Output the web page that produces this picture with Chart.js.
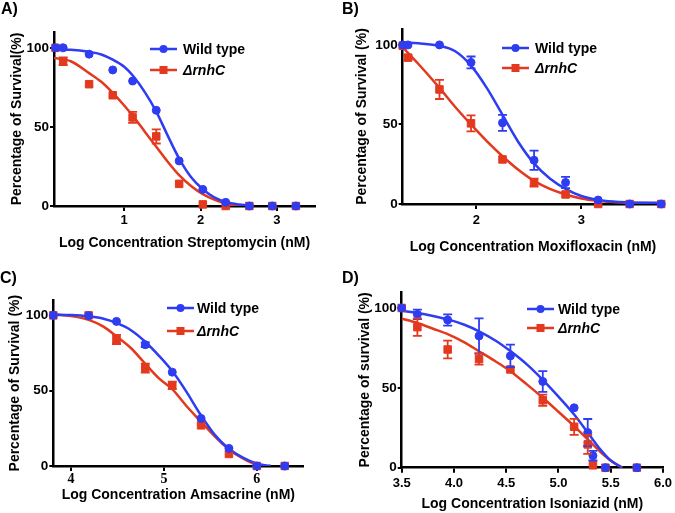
<!DOCTYPE html>
<html>
<head>
<meta charset="utf-8">
<script src="https://cdn.jsdelivr.net/npm/chart.js@4.4.0/dist/chart.umd.min.js"></script>
<style>
  body { margin: 0; background: #fff; width: 675px; height: 513px; position: relative; overflow: hidden;
         font-family: "Liberation Sans", Arial, sans-serif; }
  canvas { position: absolute; }
  .tag { position: absolute; font-weight: bold; font-size: 16px; line-height: 18px; }
</style>
</head>
<body>
<canvas id="chartA" width="337" height="256" style="left:0;top:0"></canvas>
<canvas id="chartB" width="338" height="256" style="left:337px;top:0"></canvas>
<canvas id="chartC" width="337" height="257" style="left:0;top:256px"></canvas>
<canvas id="chartD" width="338" height="257" style="left:337px;top:256px"></canvas>
<div class="tag" style="left:1px;top:0px">A)</div>
<div class="tag" style="left:342px;top:0px">B)</div>
<div class="tag" style="left:0px;top:269px">C)</div>
<div class="tag" style="left:342px;top:269px">D)</div>
<script>
const BLUE = "#2e3cf2";
const RED = "#e3391e";
const FONT = "'Liberation Sans', Arial, sans-serif";

const seriesNames = ["Wild type", "\u0394rnhC"];

// A) streptomycin
const strepDose = [0.10, 0.20, 0.54, 0.85, 1.11, 1.42, 1.72, 2.03, 2.33, 2.64, 2.94, 3.25];
const strepWT = [100, 100, 96, 86, 79, 60.5, 28.5, 10.5, 2.3, 0, 0, 0];
const strepWTErr = [0, 0, 0, 0, 0, 0, 0, 0, 0, 0, 0, 0];
const strepKO = [100, 91.5, 77, 70, 56, 44, 14, 1, 0, 0, 0, 0];
const strepKOErr = [0, 2.5, 0, 0, 3.5, 4.5, 0, 0, 0, 0, 0, 0];
const strepFitX = [0.08, 0.3, 0.54, 0.7, 0.85, 1.0, 1.12, 1.27, 1.42, 1.57, 1.72, 1.88, 2.03, 2.18, 2.33, 2.5, 2.65];
const strepWTFit = [99, 98.8, 97.5, 95.8, 92.5, 88, 82, 72, 59.7, 44.5, 30, 18, 10.6, 5.5, 2.6, 1, 0.3];
const strepKOFit = [93.5, 91.5, 84, 78.5, 71.5, 63.5, 56.5, 47, 37.5, 28, 19.5, 12.5, 7.5, 4, 1.5, 0, 0];

// B) moxifloxacin
const moxDose = [1.30, 1.35, 1.65, 1.95, 2.25, 2.55, 2.85, 3.16, 3.46, 3.76];
const moxWT = [100, 100, 100, 89, 51, 27.5, 13.5, 2.5, 0, 0];
const moxWTErr = [0, 0, 0, 3.7, 5, 6, 3.5, 0, 0, 0];
const moxKO = [99.5, 92, 72, 50.7, 28, 13.5, 6, 0, 0, 0];
const moxKOErr = [0, 1.5, 6, 5, 0, 2.5, 0, 0, 0, 0];
const moxFitX = [1.30, 1.45, 1.65, 1.80, 1.95, 2.10, 2.25, 2.40, 2.55, 2.70, 2.85, 3.00, 3.16, 3.30, 3.46, 3.60, 3.76];
const moxWTFit = [101.5, 101, 99.5, 96, 87, 73, 56, 39, 25.5, 16, 9.5, 5, 2.5, 1.5, 1, 0.8, 0.7];
const moxKOFit = [98.5, 88, 73, 61, 50, 39.5, 30, 21.5, 14.5, 9.5, 6, 3.5, 2, 1.2, 0.8, 0.6, 0.5];

// C) amsacrine
const amsDose = [3.81, 4.19, 4.49, 4.80, 5.09, 5.40, 5.70, 6.00, 6.30];
const amsWT = [100, 99.8, 96, 80.5, 62.3, 31.6, 11.7, 0, 0];
const amsWTErr = [0, 0, 0, 1.5, 0, 0, 0, 0, 0];
const amsKO = [100, 100, 84, 65, 53.5, 27, 8, 0, 0];
const amsKOErr = [0, 0, 3, 3, 2.5, 0, 0, 0, 0];
const amsFitX = [3.81, 4.0, 4.19, 4.35, 4.49, 4.65, 4.79, 4.95, 5.09, 5.24, 5.39, 5.55, 5.69, 5.85, 5.99, 6.1, 6.15];
const amsWTFit = [100.5, 100.2, 99.3, 97.8, 95, 90, 83, 73, 63, 49.5, 34.5, 20.5, 12, 5.5, 1.8, 0.3, 0];
const amsKOFit = [100.5, 99.5, 97, 92.5, 86, 78, 68.5, 58, 51, 40, 30, 19.5, 11.5, 5, 1, 0, 0];

// D) isoniazid
const inhDose = [3.5, 3.65, 3.94, 4.24, 4.54, 4.85, 5.15, 5.28, 5.33, 5.45, 5.75];
const inhWT = [100, 96, 92.5, 82.5, 70, 54, 37.5, 22, 7.5, 0, 0];
const inhWTErr = [0, 3, 3.5, 11, 7, 6.5, 0, 8.5, 3, 0, 0];
const inhKO = [100, 88, 74, 68, 61.5, 42.3, 25.6, 14.6, 1.5, 0, 0];
const inhKOErr = [0, 5.5, 5.5, 3.5, 0, 3.5, 5, 6, 0, 0, 0];
const inhFitX = [3.5, 3.65, 3.8, 3.95, 4.1, 4.24, 4.4, 4.54, 4.7, 4.85, 5.0, 5.15, 5.28, 5.4, 5.5, 5.61];
const inhWTFit = [98.3, 96.9, 95, 92.7, 89.5, 85.4, 79.5, 73, 64.5, 55, 44.5, 33.3, 22, 11.5, 4.5, 0];
const inhKOFit = [93.3, 90.6, 87, 83.3, 78.5, 72.9, 66.5, 60.4, 52, 43.8, 35, 26, 17.7, 10, 4.5, 0];

const yTicks = [0, 50, 100];
const strepTicks = [1, 2, 3];
const moxTicks = [2, 3];
const amsTicks = [4, 5, 6];
const inhTicks = [3.5, 4.0, 4.5, 5.0, 5.5, 6.0];

const pts = (xs, ys) => xs.map((x, i) => ({ x: x, y: ys[i] }));

// vertical SEM bars with caps
const errorBars = {
  id: "errorBars",
  afterDatasetsDraw(chart) {
    const ctx = chart.ctx;
    const xs = chart.scales.x, ys = chart.scales.y;
    chart.data.datasets.forEach((ds) => {
      if (!ds.errors) return;
      ctx.save();
      ctx.strokeStyle = ds.borderColor;
      ctx.lineWidth = 1.8;
      ds.data.forEach((p, j) => {
        const e = ds.errors[j];
        if (!e) return;
        const px = xs.getPixelForValue(p.x);
        const top = ys.getPixelForValue(p.y + e);
        const bot = ys.getPixelForValue(p.y - e);
        ctx.beginPath();
        ctx.moveTo(px, top); ctx.lineTo(px, bot);
        ctx.moveTo(px - 4.5, top); ctx.lineTo(px + 4.5, top);
        ctx.moveTo(px - 4.5, bot); ctx.lineTo(px + 4.5, bot);
        ctx.stroke();
      });
      ctx.restore();
    });
  }
};

// legend drawn inside the plot, line + marker like Prism
const pairLegend = {
  id: "pairLegend",
  afterDraw(chart, args, opts) {
    const ctx = chart.ctx;
    const items = [
      { label: seriesNames[0], color: BLUE, shape: "circle", italic: false },
      { label: seriesNames[1], color: RED, shape: "rect", italic: true }
    ];
    items.forEach((it, k) => {
      const y = opts.y + k * opts.gap;
      const mid = opts.x + 13.5;
      ctx.save();
      ctx.strokeStyle = it.color;
      ctx.fillStyle = it.color;
      ctx.lineWidth = 2.5;
      ctx.beginPath();
      ctx.moveTo(opts.x, y); ctx.lineTo(opts.x + 27, y);
      ctx.stroke();
      if (it.shape === "circle") {
        ctx.beginPath(); ctx.arc(mid, y, 4, 0, Math.PI * 2); ctx.fill();
      } else {
        ctx.fillRect(mid - 4, y - 4, 8, 8);
      }
      ctx.fillStyle = "#000";
      ctx.font = (it.italic ? "italic " : "") + "bold 14px " + FONT;
      ctx.textBaseline = "middle";
      ctx.fillText(it.label, opts.x + opts.textOff, y + 1);
      ctx.restore();
    });
  }
};

function drawPanel(id, p) {
  const xGrid = { drawOnChartArea: false, drawTicks: true, tickLength: 5, color: "#000", lineWidth: 2 };
  const yGrid = { drawOnChartArea: false, drawTicks: true, tickLength: 4, color: "#000", lineWidth: 2 };
  const axisBorder = { color: "#000", width: 2.5 };
  new Chart(document.getElementById(id), {
    data: {
      datasets: [
        { type: "scatter", data: pts(p.dose, p.wt), errors: p.wtErr, backgroundColor: BLUE, borderColor: BLUE,
          pointStyle: "circle", pointRadius: 4, clip: false },
        { type: "scatter", data: pts(p.dose, p.ko), errors: p.koErr, backgroundColor: RED, borderColor: RED,
          pointStyle: "rect", pointRadius: 5.3, clip: false },
        { type: "line", data: pts(p.fitX, p.wtFit), borderColor: BLUE, borderWidth: 2.5, pointRadius: 0,
          cubicInterpolationMode: "monotone", fill: false },
        { type: "line", data: pts(p.fitX, p.koFit), borderColor: RED, borderWidth: 2.5, pointRadius: 0,
          cubicInterpolationMode: "monotone", fill: false }
      ]
    },
    options: {
      responsive: false,
      animation: false,
      events: [],
      layout: { padding: { top: p.top, right: p.w - p.right, left: 0, bottom: 0 } },
      plugins: {
        legend: { display: false },
        tooltip: { enabled: false },
        pairLegend: p.legend
      },
      scales: {
        x: {
          type: "linear",
          min: p.xMin,
          max: p.xMax,
          afterBuildTicks: (s) => { s.ticks = p.xTicks.map((v) => ({ value: v })); },
          afterFit: (s) => { s.height = p.h - p.bottom; },
          grid: xGrid,
          border: axisBorder,
          ticks: {
            color: "#000", padding: p.xTickPad, maxRotation: 0, autoSkip: false,
            font: p.xTickFont || { family: FONT, size: 13, weight: "bold" },
            callback: (v) => p.decimals ? Number(v).toFixed(p.decimals) : String(v)
          },
          title: {
            display: true, text: p.xTitle, color: "#000",
            font: { family: FONT, size: 14, weight: "bold" },
            padding: { top: 0, bottom: p.xTitlePad }
          }
        },
        y: {
          min: 0,
          max: 110,
          afterBuildTicks: (s) => { s.ticks = yTicks.map((v) => ({ value: v })); },
          afterFit: (s) => { s.width = p.left; },
          grid: yGrid,
          border: axisBorder,
          ticks: { color: "#000", padding: 1, font: { family: FONT, size: 13.5, weight: "bold" } },
          title: {
            display: true, text: p.yTitle, color: "#000",
            font: { family: FONT, size: 14, weight: "bold" },
            padding: { top: p.yTitlePad, bottom: 0 }
          }
        }
      }
    },
    plugins: [errorBars, pairLegend]
  });
}

drawPanel("chartA", {
  dose: strepDose, wt: strepWT, wtErr: strepWTErr, ko: strepKO, koErr: strepKOErr,
  fitX: strepFitX, wtFit: strepWTFit, koFit: strepKOFit, xTicks: strepTicks,
  xMin: 0.08, xMax: 3.5, w: 337, h: 256, left: 54, right: 315, top: 32, bottom: 206,
  xTickPad: 2, xTitlePad: 4.6, yTitlePad: 8.6,
  xTitle: "Log Concentration Streptomycin (nM)", yTitle: "Percentage of Survival(%)",
  legend: { x: 150, y: 49, gap: 21, textOff: 33 }
});

drawPanel("chartB", {
  dose: moxDose, wt: moxWT, wtErr: moxWTErr, ko: moxKO, koErr: moxKOErr,
  fitX: moxFitX, wtFit: moxWTFit, koFit: moxKOFit, xTicks: moxTicks,
  xMin: 1.30, xMax: 3.78, w: 338, h: 256, left: 65.7, right: 326.3, top: 29, bottom: 204,
  xTickPad: 4, xTitlePad: 0.6, yTitlePad: 16.6,
  xTitle: "Log Concentration Moxifloxacin (nM)", yTitle: "Percentage of Survival (%)",
  legend: { x: 165, y: 48, gap: 20, textOff: 33 }
});

drawPanel("chartC", {
  dose: amsDose, wt: amsWT, wtErr: amsWTErr, ko: amsKO, koErr: amsKOErr,
  fitX: amsFitX, wtFit: amsWTFit, koFit: amsKOFit, xTicks: amsTicks,
  xMin: 3.81, xMax: 6.5, w: 337, h: 257, left: 53.3, right: 303.3, top: 44.3, bottom: 210,
  xTickPad: 0, xTitlePad: 9.6, yTitlePad: 6.6,
  xTickFont: { family: "'Liberation Serif', 'Times New Roman', serif", size: 14, weight: "bold" },
  xTitle: "Log Concentration Amsacrine (nM)", yTitle: "Percentage of Survival (%)",
  legend: { x: 167, y: 52, gap: 23, textOff: 30 }
});

drawPanel("chartD", {
  dose: inhDose, wt: inhWT, wtErr: inhWTErr, ko: inhKO, koErr: inhKOErr,
  fitX: inhFitX, wtFit: inhWTFit, koFit: inhKOFit, xTicks: inhTicks, decimals: 1,
  xMin: 3.5, xMax: 6.0, w: 338, h: 257, left: 64.7, right: 328, top: 36, bottom: 211.7,
  xTickPad: 3, xTitlePad: 0.6, yTitlePad: 19.6,
  xTitle: "Log Concentration Isoniazid (nM)", yTitle: "Percentage of survival (%)",
  legend: { x: 190, y: 53, gap: 19, textOff: 31 }
});
</script>
</body>
</html>
